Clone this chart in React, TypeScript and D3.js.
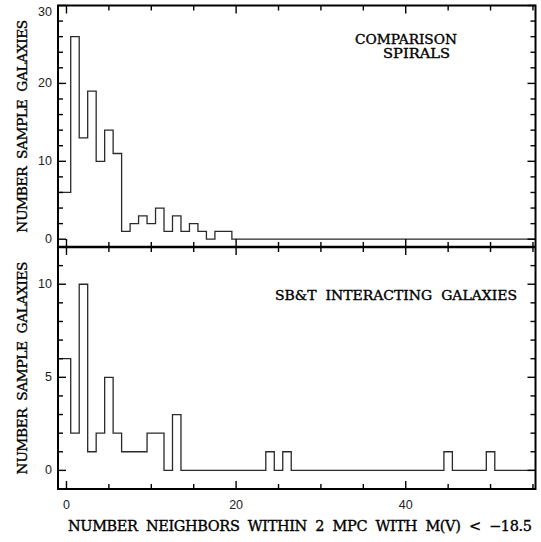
import React from "react";
import * as d3 from "d3";

// Histogram counts per neighbour number (bins centred on integers 0..55)
const neighbourBins = [
  0, 1, 2, 3, 4, 5, 6, 7, 8, 9, 10, 11, 12, 13, 14, 15, 16, 17, 18, 19, 20, 21, 22, 23, 24, 25, 26, 27,
  28, 29, 30, 31, 32, 33, 34, 35, 36, 37, 38, 39, 40, 41, 42, 43, 44, 45, 46, 47, 48, 49, 50, 51, 52, 53, 54, 55,
];
const comparisonCounts = [
  6, 26, 13, 19, 10, 14, 11, 1, 2, 3, 2, 4, 1, 3, 1, 2, 1, 0, 1, 1, 0, 0, 0, 0, 0, 0, 0, 0,
  0, 0, 0, 0, 0, 0, 0, 0, 0, 0, 0, 0, 0, 0, 0, 0, 0, 0, 0, 0, 0, 0, 0, 0, 0, 0, 0, 0,
];
const interactingCounts = [
  6, 2, 10, 1, 2, 5, 2, 1, 1, 1, 2, 2, 0, 3, 0, 0, 0, 0, 0, 0, 0, 0, 0, 0, 1, 0, 1, 0,
  0, 0, 0, 0, 0, 0, 0, 0, 0, 0, 0, 0, 0, 0, 0, 0, 0, 1, 0, 0, 0, 0, 1, 0, 0, 0, 0, 0,
];

const xTicks = [0, 5, 10, 15, 20, 25, 30, 35, 40, 45, 50, 55];
const xTickLabels = [0, 20, 40];
const topYTicks = [0, 2, 4, 6, 8, 10, 12, 14, 16, 18, 20, 22, 24, 26, 28, 30];
const topYTickLabels = [0, 10, 20, 30];
const botYTicks = [0, 1, 2, 3, 4, 5, 6, 7, 8, 9, 10, 11];
const botYTickLabels = [0, 5, 10];

const topTitle = ["COMPARISON", "SPIRALS"];
const botTitle = "SB&T  INTERACTING  GALAXIES";
const yLabel = "NUMBER  SAMPLE  GALAXIES";
const xLabel = "NUMBER  NEIGHBORS  WITHIN  2  MPC  WITH  M(V)  <  \u221218.5";

const W = 541;
const H = 542;
const L = 58;
const R = 535.5;
const T = 5.5;
const M = 247;
const B = 489;

const x = d3.scaleLinear().domain([-1, 55.3]).range([L, R]);
const yTop = d3.scaleLinear().domain([-1, 30]).range([M, T]);
const yBot = d3.scaleLinear().domain([-1, 12]).range([B, M]);

const serif = "DejaVu Serif";
const sans = "Liberation Sans";

function stepPath(counts: number[], y: d3.ScaleLinear<number, number>) {
  const pts: [number, number][] = [];
  const [x0, x1] = x.domain();
  neighbourBins.forEach((b, i) => {
    const start = i === 0 ? x0 : b - 0.5;
    pts.push([start, counts[i]]);
  });
  pts.push([x1, counts[counts.length - 1]]);
  const line = d3
    .line<[number, number]>()
    .x((d) => x(d[0]))
    .y((d) => y(d[1]))
    .curve(d3.curveStepAfter);
  return line(pts) || "";
}

const textWeight = { stroke: "#000", strokeWidth: 0.35, style: { whiteSpace: "pre" as const } };

function Panel({
  y,
  yTicks,
  yLabels,
  counts,
  top,
  bottom,
  id,
}: {
  y: d3.ScaleLinear<number, number>;
  yTicks: number[];
  yLabels: number[];
  counts: number[];
  top: number;
  bottom: number;
  id: string;
}) {
  const major = 8;
  const minor = 5;
  return (
    <g>
      <clipPath id={id}>
        <rect x={L} y={top} width={R - L} height={bottom - top} />
      </clipPath>
      <path
        d={stepPath(counts, y)}
        fill="none"
        stroke="#2a2a2a"
        strokeWidth={1.3}
        clipPath={`url(#${id})`}
      />
      {xTicks.map((t) => {
        const len = xTickLabels.includes(t) ? major : minor;
        return (
          <g key={"x" + t}>
            <line x1={x(t)} x2={x(t)} y1={bottom} y2={bottom - len} stroke="#000" strokeWidth={1.4} />
            <line x1={x(t)} x2={x(t)} y1={top} y2={top + len} stroke="#000" strokeWidth={1.4} />
          </g>
        );
      })}
      {yTicks.map((t) => {
        const len = yLabels.includes(t) ? major : minor;
        return (
          <g key={"y" + t}>
            <line x1={L} x2={L + len} y1={y(t)} y2={y(t)} stroke="#000" strokeWidth={1.4} />
            <line x1={R} x2={R - len} y1={y(t)} y2={y(t)} stroke="#000" strokeWidth={1.4} />
          </g>
        );
      })}
      {yLabels.map((t) => {
        let cy = y(t);
        if (cy < top + 6) cy = top + 6;
        return (
          <text
            key={"yl" + t}
            x={52}
            y={cy}
            textAnchor="end"
            dominantBaseline="central"
            fontFamily={sans}
            fontSize={12.5}
            fill="#222"
          >
            {t}
          </text>
        );
      })}
      <text
        transform={`translate(27,${(top + bottom) / 2}) rotate(-90)`}
        textAnchor="middle"
        fontFamily={serif}
        fontSize={13.8}
        textLength={213}
        lengthAdjust="spacing"
        fill="#000"
        {...textWeight}
      >
        {yLabel}
      </text>
    </g>
  );
}

export default function App() {
  return (
    <svg
      width={W}
      height={H}
      viewBox={`0 0 ${W} ${H}`}
      style={{ position: "absolute", left: 0, top: 0, background: "#fff" }}
    >
      <rect x={0} y={0} width={W} height={H} fill="#fff" />
      <Panel
        y={yTop}
        yTicks={topYTicks}
        yLabels={topYTickLabels}
        counts={comparisonCounts}
        top={T}
        bottom={M}
        id="clipTop"
      />
      <Panel
        y={yBot}
        yTicks={botYTicks}
        yLabels={botYTickLabels}
        counts={interactingCounts}
        top={M}
        bottom={B}
        id="clipBot"
      />
      <rect x={L} y={T} width={R - L} height={B - T} fill="none" stroke="#000" strokeWidth={2} />
      <line x1={L} x2={R} y1={M} y2={M} stroke="#000" strokeWidth={2.5} />
      {xTickLabels.map((t) => (
        <text
          key={"xl" + t}
          x={x(t)}
          y={509}
          textAnchor="middle"
          fontFamily={sans}
          fontSize={12.5}
          fill="#222"
        >
          {t}
        </text>
      ))}
      <text x={355} y={44} fontFamily={serif} fontSize={12.5} textLength={102} lengthAdjust="spacingAndGlyphs" {...textWeight}>
        {topTitle[0]}
      </text>
      <text x={383} y={58} fontFamily={serif} fontSize={12.5} textLength={67} lengthAdjust="spacingAndGlyphs" {...textWeight}>
        {topTitle[1]}
      </text>
      <text x={275} y={299.5} fontFamily={serif} fontSize={12.5} textLength={242} lengthAdjust="spacingAndGlyphs" {...textWeight}>
        {botTitle}
      </text>
      <text x={68} y={530.7} fontFamily={serif} fontSize={14.5} textLength={464} lengthAdjust="spacing" {...textWeight}>
        {xLabel}
      </text>
    </svg>
  );
}
